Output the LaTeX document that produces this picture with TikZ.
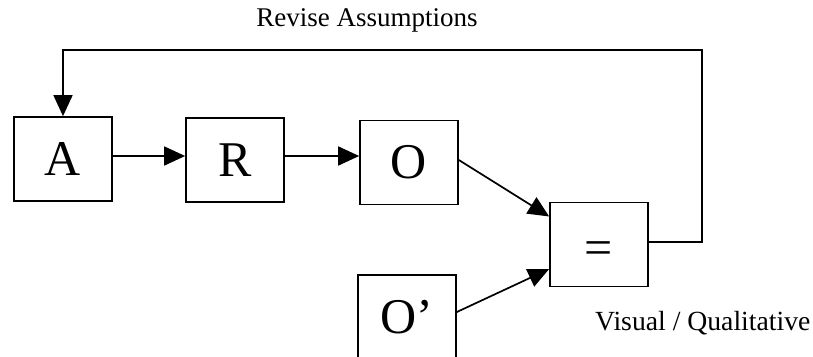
\documentclass[tikz,border=0pt]{standalone}
\usepackage{fontspec}
\setmainfont{Liberation Serif}
\usetikzlibrary{arrows.meta,calc}
\begin{document}
\begin{tikzpicture}[x=1pt,y=-1pt,
  box/.style={draw,line width=1.7pt,minimum width=98pt,minimum height=84pt,inner sep=0pt,
    font=\fontsize{50}{50}\selectfont},
  arr/.style={line width=1.7pt,-{Triangle[length=21pt,width=19pt]}},
  lbl/.style={font=\fontsize{27}{27}\selectfont,inner sep=0pt}]
\useasboundingbox (0,0) rectangle (813,356);
\begin{scope}
\clip (0,0) rectangle (813,356);
\node[box] (A) at (63,159) {A};
\node[box] (R) at (235,160) {R};
\node[box] (O) at (409,162.5) {O};
\node[box] (E) at (599,244.5) {\raisebox{-20pt}[0pt][0pt]{=}};
\node[box] (Op) at (407,317) {O’};
\end{scope}
\coordinate (a1) at ([yshift=3pt]A.east);
\coordinate (r1) at ([yshift=4pt]R.east);
\draw[arr] (a1) -- (a1 -| R.west);
\draw[arr] (r1) -- (r1 -| O.west);
\draw[arr] ([yshift=2.5pt]O.east) -- ([yshift=28pt]E.west);
\draw[arr] ([yshift=5pt]Op.east) -- ([yshift=-24.5pt]E.west);
\coordinate (fr) at (702,50);
\coordinate (e1) at ([yshift=2.5pt]E.east);
\draw[arr] (e1) -- (e1 -| fr) -- (fr) -- (fr -| A.north) -- (A.north);
\node[lbl,anchor=base] (t1) at (367,27) {Revise Assumptions};
\node[lbl,anchor=base west,font=\fontsize{27.7}{28}\selectfont] (t2) at (595,330) {Visual / Qualitative};
\end{tikzpicture}
\end{document}
